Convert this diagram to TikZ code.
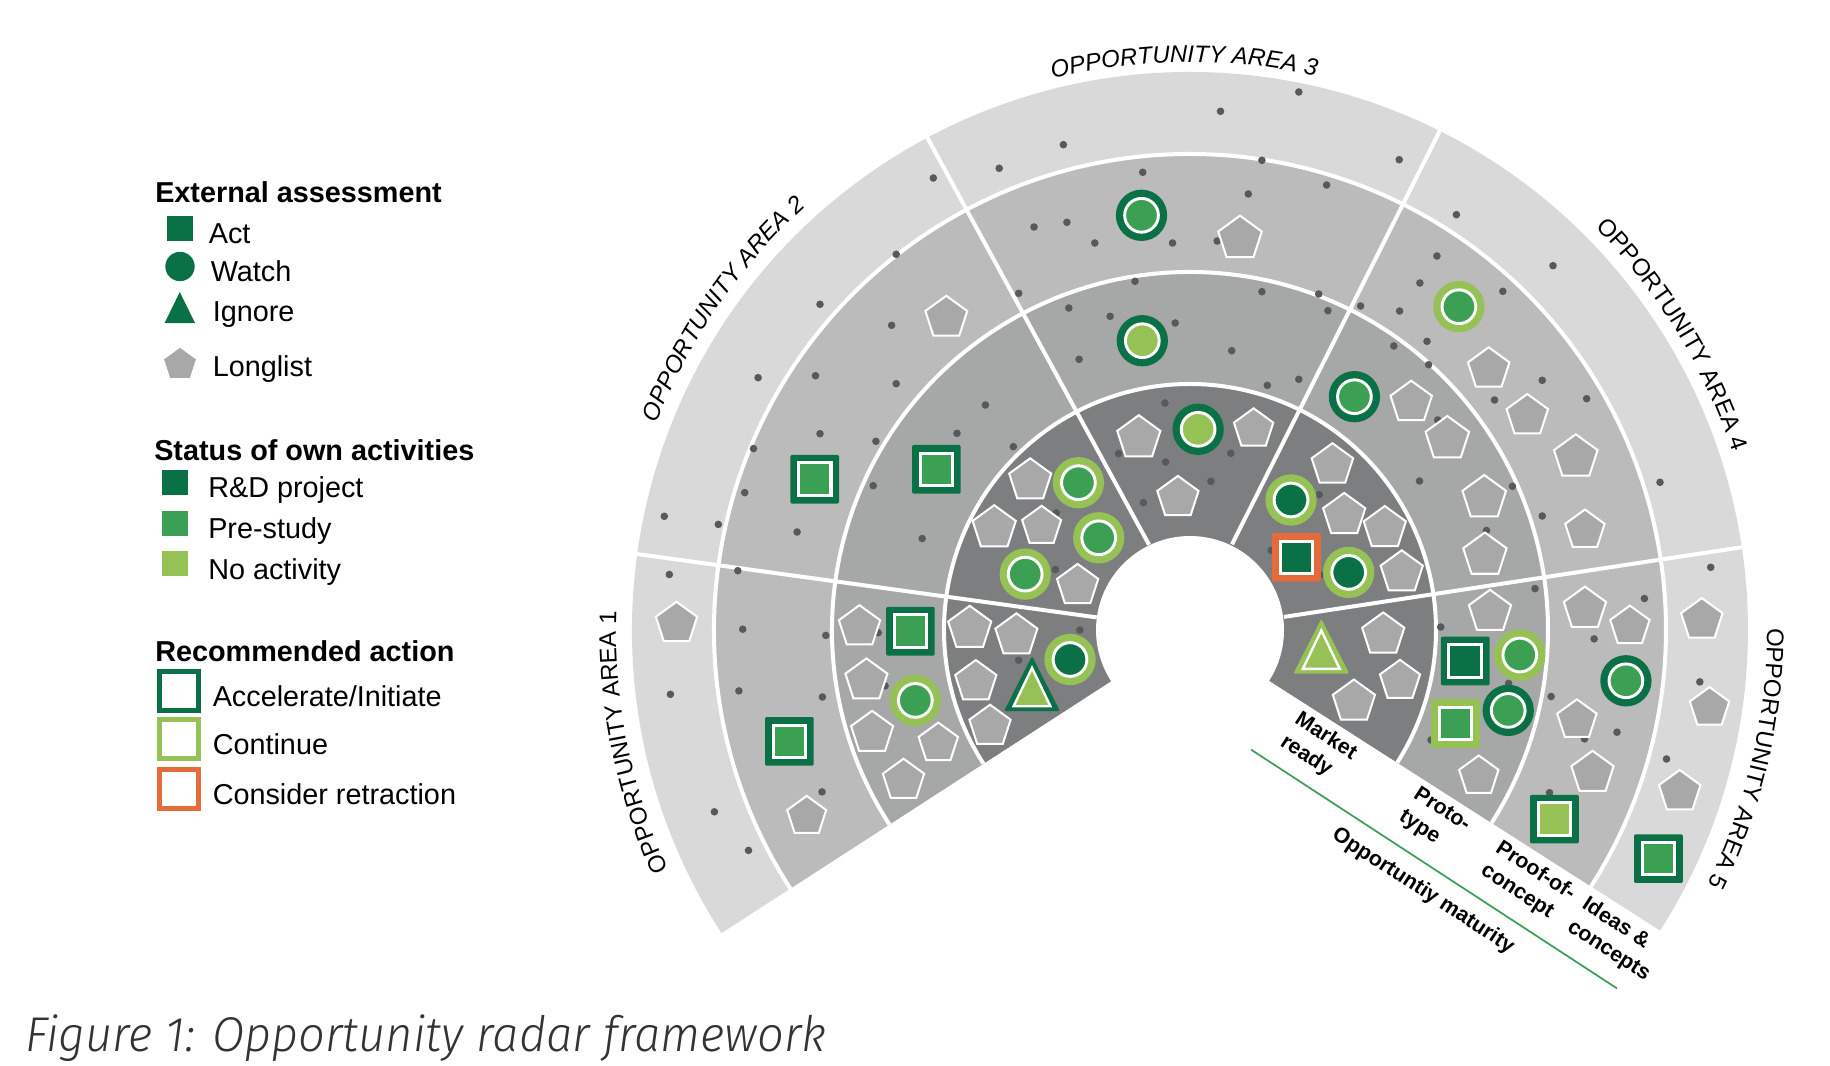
\documentclass[tikz,border=0pt]{standalone}
\usepackage{fontspec}
\setmainfont{Liberation Sans}
\newfontfamily\capfont[UprightFont=* Light, ItalicFont=* Light Italic, FakeStretch=0.965]{Fira Sans}
\usepackage{tikz}
\usetikzlibrary{calc}
\usetikzlibrary{decorations.text,shapes.geometric}
\usepackage{xcolor}

\definecolor{actgreen}{HTML}{0A7146}
\definecolor{midgreen}{HTML}{3CA054}
\definecolor{lightgreen}{HTML}{95C155}
\definecolor{retract}{HTML}{E56B3A}
\definecolor{pentgrey}{HTML}{A8A8A8}
\definecolor{dotgrey}{HTML}{58595B}
\definecolor{ringa}{HTML}{7D7E80}
\definecolor{ringb}{HTML}{A6A8A7}
\definecolor{ringc}{HTML}{BBBBBB}
\definecolor{ringd}{HTML}{D9D9D9}

\tikzset{
    legendtext/.style={font=\fontsize{21.6}{26}\selectfont, anchor=west, inner sep=0},
    legendhead/.style={font=\fontsize{21.6}{26}\selectfont\bfseries, anchor=west, inner sep=0},
    stagetext/.style={font=\fontsize{16}{20}\selectfont\bfseries, align=left, anchor=west, inner sep=0, rotate=-33},
    pent/.style={regular polygon, regular polygon sides=5, fill=pentgrey, draw=white, line width=1.5pt, inner sep=0},
    sqouter/.style={rectangle, rounded corners=1pt, minimum size=36.5pt, inner sep=0},
    sqinner/.style={rectangle, draw=white, line width=2.3pt, minimum size=24.4pt, inner sep=0},
    ciouter/.style={circle, minimum size=38.5pt, inner sep=0},
    ciinner/.style={circle, draw=white, line width=2.2pt, minimum size=25.3pt, inner sep=0},
    legendsq/.style={rectangle, minimum width=19.5pt, minimum height=18.8pt, inner sep=0},
    legendbox/.style={rectangle, draw=#1, line width=3.7pt, minimum width=29.5pt, minimum height=29pt, inner sep=0},
    ringline/.style={white, line width=3pt},
}

\newcommand{\sqmark}[4]{
    \node[sqouter, fill=#3] (#1) at (#2) {};
    \node[sqinner, fill=#4] (#1in) at (#2) {};
}
\newcommand{\cimark}[4]{
    \node[ciouter, fill=#3] (#1) at (#2) {};
    \node[ciinner, fill=#4] (#1in) at (#2) {};
}
\newcommand{\trimark}[4]{
    \fill[#3, shift={(#2)}, rounded corners=1.5pt] (-28,27.5) -- (0,-27.5) -- (28,27.5) -- cycle;
    \filldraw[#4, draw=white, line width=1.8pt, shift={(#2)}] (-18.4,22.6) -- (0,-15.7) -- (18.4,22.6) -- cycle;
}
\newcommand{\arealabel}[4]{
    \path[decorate, decoration={text along path, text align=center,
        text={|\fontsize{18}{20}\selectfont#3|#4}}]
        ($(c)+({-(#1+22)}:#2)$) arc[start angle={-(#1+22)}, end angle={-(#1-22)}, radius=#2];
}

\begin{document}
\begin{tikzpicture}[x=0.75pt, y=-0.75pt]
        \useasboundingbox (0,0) rectangle (1830,1066);
        \coordinate (c) at (1190,630);

        % rings, outside first
        \fill[ringd] (c) -- +(-212.9:558) arc[start angle=-212.9, end angle=32.6, radius=558] -- cycle;
        \fill[ringc] (c) -- +(-212.9:476) arc[start angle=-212.9, end angle=32.6, radius=476] -- cycle;
        \fill[ringb] (c) -- +(-212.9:358) arc[start angle=-212.9, end angle=32.6, radius=358] -- cycle;
        \fill[ringa] (c) -- +(-212.9:246) arc[start angle=-212.9, end angle=32.6, radius=246] -- cycle;
        \fill[white] (c) circle[radius=94];

        \draw[ringline] (c) +(-212.9:476) arc[start angle=-212.9, end angle=32.6, radius=476];
        \draw[ringline] (c) +(-212.9:358) arc[start angle=-212.9, end angle=32.6, radius=358];
        \draw[ringline] (c) +(-212.9:246) arc[start angle=-212.9, end angle=32.6, radius=246];

        % area borders
        \draw[ringline] (637,554) -- (1096.7,617.4);
        \draw[ringline] (927,137) -- (1149,544.7);
        \draw[ringline] (1440.2,130) -- (1232,544.3);
        \draw[ringline] (1742,547.2) -- (1284,616.9);

        % dots
        \foreach \px/\py in {820/433.7, 753.5/448.6, 875.9/441.3, 957/433.3, 1013.3/446.7, 985.4/405,
                744.7/492.6, 873.2/485.7, 664.3/516.3, 718.3/524.4, 797.1/532, 922.2/538.5,
                737.8/570.7, 669.3/574.5, 1056.2/512.9, 1055.4/569.5, 1118.6/453.6, 1165.6/462,
                1143.4/502.6, 1164.9/403, 742.7/629.2, 825.8/635.4, 878.2/632.7, 1079.9/630,
                1018.7/660.2, 885.1/685.9, 670.4/694.3, 738.9/690.9, 822.4/697, 822/791.9,
                714.4/811.8, 748.5/850.4, 1063.4/144.7, 999.2/168.3, 933.3/178, 1142.7/172.3,
                1034/227, 1066.9/222.3, 1094.8/243, 1172.5/243, 896.2/254.3, 820/304.3,
                891.6/325.3, 1018.7/293.3, 1135/281.3, 1068.8/308, 1110.1/316.3, 1175.2/323,
                1079.1/359.3, 758.1/377.7, 815.5/375.7, 896.2/383.7, 1298.8/92, 1220.5/111.3,
                1261.9/160.3, 1399.2/159.7, 1326.6/185, 1248.3/194, 1456.4/214.7, 1217.2/241,
                1436.9/256, 1553/265.7, 1419.9/283, 1502.8/291.3, 1261.9/291.7, 1318.7/294,
                1360.6/306, 1327.9/310.7, 1399.6/311, 1231.7/350.7, 1427/341.3, 1393.8/346,
                1428.6/364.7, 1298.8/379.3, 1267.3/385.3, 1542.2/380.3, 1494.5/400, 1586.6/398.7,
                1437.7/420, 1230.8/453.3, 1210.9/481.3, 1319.2/494.7, 1419.5/481, 1512.4/486.3,
                1660/482.3, 1542.2/516, 1486.5/530.5, 1271.1/550.3, 1320.5/574.8, 1535/588.6,
                1644.4/598.5, 1710.7/567.3, 1440.7/627, 1594.1/638.9, 1699.8/681.9, 1508.6/683.4,
                1551.1/696.5, 1617/732.2, 1584.5/738.9, 1431/740, 1666.5/759, 1549.5/792.7} {
            \fill[dotgrey] (\px,\py) circle[radius=3.8];
        }

        % longlist
        \foreach \px/\py/\pr [count=\i] in {1030.2/480.4/22.1, 994.2/527.9/22.7, 1041.6/526.3/20.5,
                1077.6/585.6/21.7, 1138.8/437.9/22.7, 1177.9/497.6/21.7, 676.5/623.5/21.7,
                859.5/626.9/21.7, 866.4/680.5/22.1, 872.1/732.9/22.1, 938.3/743.3/20.7,
                903.5/780.4/21.7, 969.7/628.5/22.7, 1016.4/635.4/22.1, 975.8/681.7/21.7,
                990/726.4/21.7, 806.7/816.4/20.5, 946.3/317.8/22, 1240/238.6/22.9,
                1411.2/402.5/21.8, 1447.3/438.9/22.9, 1488.7/369.1/21.8, 1527.3/415.8/21.8,
                1575.8/457.2/22.9, 1484.2/497.9/22.9, 1253.6/429/20.7, 1332.4/465/21.8,
                1344.2/515.1/22.2, 1384.8/528.2/22.2, 1401.7/572.5/22.2, 1484.9/555.3/22.8,
                1584.9/530.2/20.7, 1383.2/634.6/22.2, 1400/680.9/21.1, 1353.9/701.7/22.2,
                1490/612/22.2, 1478.8/776.2/20.7, 1584.9/608.8/22.2, 1629.9/626.3/20.7,
                1576.9/720/20.7, 1592.5/773/22.2, 1701.8/619.9/21.8, 1709.5/707.8/20.7,
                1679.7/791.8/21.8} {
            \node[pent, minimum size=1.5pt*\pr, name=pent\i] at (\px,\py) {};
        }

        % area 1 and 2 projects
        \sqmark{sqa}{814.7,479.2}{actgreen}{midgreen}
        \sqmark{sqb}{936.4,469.3}{actgreen}{midgreen}
        \sqmark{sqc}{910.4,631.2}{actgreen}{midgreen}
        \sqmark{sqd}{789.4,741.4}{actgreen}{midgreen}
        \cimark{cia}{1078.4,482.7}{lightgreen}{midgreen}
        \cimark{cib}{1098.7,537.8}{lightgreen}{midgreen}
        \cimark{cic}{1025.2,574.1}{lightgreen}{midgreen}
        \cimark{cid}{1070,659.5}{lightgreen}{actgreen}
        \cimark{cie}{915.3,700.4}{lightgreen}{midgreen}
        \trimark{tra}{1032,683.6}{actgreen}{lightgreen}

        % area 3 and 4 projects
        \cimark{cif}{1141.5,215.3}{actgreen}{midgreen}
        \cimark{cig}{1142.3,340.7}{actgreen}{lightgreen}
        \cimark{cih}{1198.1,429.3}{actgreen}{lightgreen}
        \cimark{cii}{1458.9,306.7}{lightgreen}{midgreen}
        \cimark{cij}{1354.4,396.7}{actgreen}{midgreen}
        \cimark{cik}{1291,500}{lightgreen}{actgreen}
        \cimark{cil}{1348.7,572.4}{lightgreen}{actgreen}
        \sqmark{sqe}{1296.4,557.4}{retract}{actgreen}

        % area 5 projects
        \trimark{trb}{1321.3,646.2}{lightgreen}{lightgreen}
        \sqmark{sqf}{1465.2,661}{actgreen}{actgreen}
        \cimark{cim}{1519.8,655}{lightgreen}{midgreen}
        \cimark{cin}{1508.2,710.4}{actgreen}{midgreen}
        \sqmark{sqg}{1455.5,723.5}{lightgreen}{midgreen}
        \cimark{cio}{1625.9,680.8}{actgreen}{midgreen}
        \sqmark{sqh}{1554.4,819.1}{actgreen}{lightgreen}
        \sqmark{sqi}{1658.4,858.6}{actgreen}{midgreen}

        % area names
        \arealabel{191.4}{574}{}{OPPORTUNITY AREA 1}
        \arealabel{145.5}{572}{\itshape}{OPPORTUNITY AREA 2}
        \arealabel{90.6}{568}{\itshape}{OPPORTUNITY AREA 3}
        \arealabel{31.5}{571}{}{OPPORTUNITY AREA 4}
        \arealabel{-13}{577}{}{OPPORTUNITY AREA 5}

        % maturity stages
        \node[stagetext] (market) at (1289.4,729.2) {Market\\ready};
        \node[stagetext] (proto) at (1408,804.2) {Proto-\\type};
        \node[stagetext] (proof) at (1490,858) {Proof-of-\\concept};
        \node[stagetext] (ideas) at (1576.5,914.1) {Ideas \&\\concepts};
        \coordinate (matstart) at (1251,749.6);
        \coordinate (matend) at (1617,988.4);
        \draw[midgreen, line width=1.3pt] (matstart) -- (matend);
        \node[stagetext, anchor=center] (maturity) at (1423,891.1) {Opportuntiy maturity};

        % legend
        \node[legendhead] (headext) at (155,192.5) {External assessment};
        \node[legendsq, fill=actgreen] (keyact) at (179.5,228.6) {};
        \node[legendtext] (txtact) at (208.6,233.8) {Act};
        \node[circle, fill=actgreen, minimum size=22pt, inner sep=0] (keywatch) at (180,266.5) {};
        \node[legendtext] (txtwatch) at (210.5,271.7) {Watch};
        \fill[actgreen] (164.6,323) -- (179.8,292) -- (195,323) -- cycle;
        \node[legendtext] (txtignore) at (212.5,315) {Ignore};
        \node[regular polygon, regular polygon sides=5, fill=pentgrey, minimum size=25pt, inner sep=0] (keylong) at (180,364.5) {};
        \node[legendtext] (txtlong) at (212.5,369.3) {Longlist};

        \node[legendhead] (headown) at (154,450) {Status of own activities};
        \node[legendsq, fill=actgreen] (keyrd) at (175,482.5) {};
        \node[legendtext] (txtrd) at (208,490.5) {R\&D project};
        \node[legendsq, fill=midgreen] (keypre) at (175,523.5) {};
        \node[legendtext] (txtpre) at (208,531.5) {Pre-study};
        \node[legendsq, fill=lightgreen] (keyno) at (175,563.5) {};
        \node[legendtext] (txtno) at (208,572.5) {No activity};

        \node[legendhead] (headrec) at (155,651) {Recommended action};
        \node[legendbox=actgreen] (keyacc) at (179,690.7) {};
        \node[legendtext] (txtacc) at (212.5,696.7) {Accelerate/Initiate};
        \node[legendbox=lightgreen] (keycon) at (179,739) {};
        \node[legendtext] (txtcon) at (212.5,744) {Continue};
        \node[legendbox=retract] (keyret) at (179,789) {};
        \node[legendtext] (txtret) at (212.5,794) {Consider retraction};

        \node[anchor=west, inner sep=0, text=black!80, font=\capfont\itshape\fontsize{36.6}{42}\selectfont] (caption) at (25,1038) {Figure 1: Opportunity radar framework};
\end{tikzpicture}
\end{document}
